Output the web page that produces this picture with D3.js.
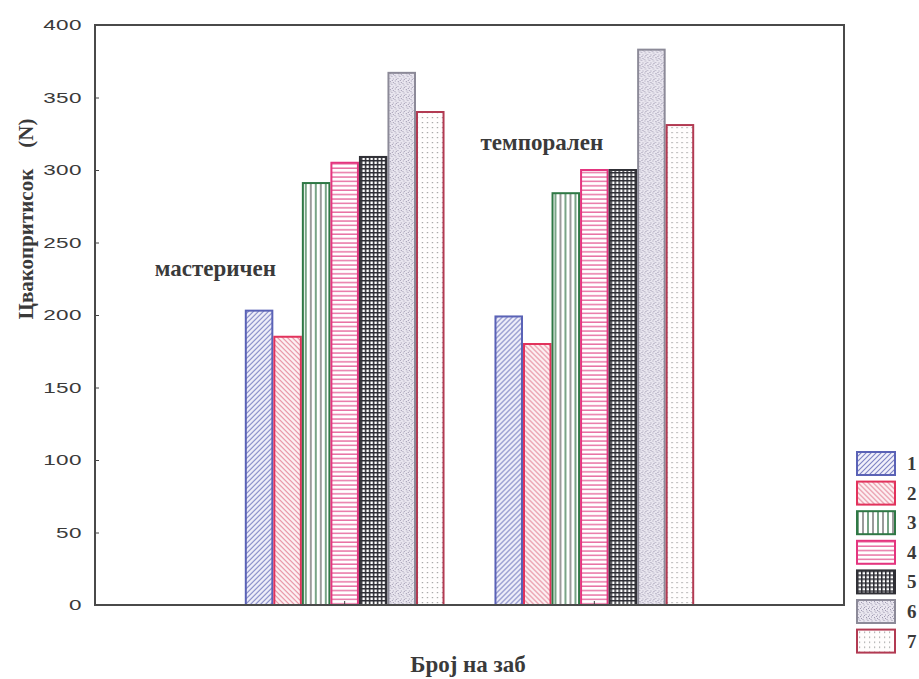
<!DOCTYPE html>
<html>
<head>
<meta charset="utf-8">
<script src="https://cdn.jsdelivr.net/npm/d3@7"></script>
<style>
  html, body { margin: 0; padding: 0; background: #fff; }
  svg { display: block; }
  .serif { font-family: "Liberation Serif", "DejaVu Serif", serif; font-weight: bold; fill: #3a3a3a; }
  .tick text { font-family: "Liberation Sans", Arial, sans-serif; font-size: 15px; fill: #3a3a3a; }
</style>
</head>
<body>
<svg id="chart" width="919" height="679"></svg>
<script>
// Groups (sites of measurement) and the tooth-number series
const groups = ["мастеричен", "темпорален"];
const series = ["1", "2", "3", "4", "5", "6", "7"];
// Bite force (N) per tooth number, one array per group
const valuesMasticatory = [203, 185, 291, 305, 309, 367, 340];
const valuesTemporal    = [199, 180, 284, 300, 300, 383, 331];
const yTicks = [0, 50, 100, 150, 200, 250, 300, 350, 400];

const groupValues = [valuesMasticatory, valuesTemporal];

const svg = d3.select("#chart");
const margin = { left: 95, right: 75, top: 25, bottom: 74 };
const W = 919, H = 679;
const x0 = margin.left, x1 = W - margin.right;
const yTop = margin.top, yBot = H - margin.bottom;

const x = d3.scaleBand().domain(groups).range([x0, x1]).paddingInner(0.2).paddingOuter(0.6);
const xs = d3.scaleBand().domain(series).range([0, x.bandwidth()]).padding(0);
const y = d3.scaleLinear().domain([0, 400]).range([yBot, yTop]);

// Fill patterns for each series
const defs = svg.append("defs");
function pat(id, w, h, draw) {
  const p = defs.append("pattern").attr("id", id).attr("patternUnits", "userSpaceOnUse")
    .attr("width", w).attr("height", h);
  draw(p);
}
pat("p1", 5, 5, p => {
  p.append("rect").attr("width", 5).attr("height", 5).attr("fill", "#f1f0fa");
  p.append("path").attr("d", "M-1,6 L6,-1 M-1,1 L1,-1 M4,6 L6,4").attr("stroke", "#7c82c4").attr("stroke-width", 1.1);
});
pat("p2", 5, 5, p => {
  p.append("rect").attr("width", 5).attr("height", 5).attr("fill", "#fdf2f4");
  p.append("path").attr("d", "M-1,-1 L6,6 M4,-1 L6,1 M-1,4 L1,6").attr("stroke", "#e58a9c").attr("stroke-width", 1.1);
});
pat("p3", 10, 10, p => {
  p.append("rect").attr("width", 10).attr("height", 10).attr("fill", "#fff");
  p.append("line").attr("x1", 1).attr("x2", 1).attr("y1", 0).attr("y2", 10).attr("stroke", "#3f7d52").attr("stroke-width", 1.4);
  p.append("line").attr("x1", 6).attr("x2", 6).attr("y1", 0).attr("y2", 10).attr("stroke", "#707070").attr("stroke-width", 1.4);
});
pat("p4", 10, 4.4, p => {
  p.append("rect").attr("width", 10).attr("height", 4.4).attr("fill", "#fff");
  p.append("line").attr("x1", 0).attr("x2", 10).attr("y1", 1).attr("y2", 1).attr("stroke", "#e3528f").attr("stroke-width", 1.2);
});
pat("p5", 4, 4, p => {
  p.append("rect").attr("width", 4).attr("height", 4).attr("fill", "#ffffff");
  p.append("path").attr("d", "M0,0.75 H4 M0.75,0 V4").attr("stroke", "#2e2e35").attr("stroke-width", 1.6);
});
pat("p6", 8, 8, p => {
  p.append("rect").attr("width", 8).attr("height", 8).attr("fill", "#e9e6ef");
  const dots = [[1,1],[4,2],[6,0.5],[2.5,4],[6.5,4.5],[0.5,6],[4,6.5],[7,7],[3,0],[5.5,3],[1.5,2.5]];
  dots.forEach(([cx, cy]) => p.append("rect").attr("x", cx).attr("y", cy).attr("width", 1).attr("height", 1).attr("fill", "#a09ab2"));
});
pat("p7", 5, 5, p => {
  p.append("rect").attr("width", 5).attr("height", 5).attr("fill", "#fffdfd");
  p.append("rect").attr("x", 2).attr("y", 2).attr("width", 1.2).attr("height", 1.2).attr("fill", "#9a9a9a");
});

const strokes = ["#5a62b6", "#e2325c", "#2f7845", "#e4357f", "#303036", "#8c8a98", "#b23a52"];

// Bars
const gGroups = svg.append("g").selectAll("g").data(groups).join("g")
  .attr("transform", d => `translate(${x(d)},0)`);
gGroups.selectAll("rect")
  .data((g, gi) => series.map((s, i) => ({ s, i, v: groupValues[gi][i] })))
  .join("rect")
  .attr("x", d => xs(d.s) + 1)
  .attr("y", d => y(d.v))
  .attr("width", xs.bandwidth() - 2)
  .attr("height", d => y(0) - y(d.v))
  .attr("fill", d => `url(#p${d.i + 1})`)
  .attr("stroke", d => strokes[d.i])
  .attr("stroke-width", 2);

// Y axis with inward ticks; labels drawn in a wide face
const yAxis = svg.append("g").attr("transform", `translate(${x0},0)`)
  .call(d3.axisLeft(y).tickValues(yTicks).tickSize(-4).tickPadding(13));
yAxis.select(".domain").remove();
yAxis.selectAll(".tick line").attr("stroke", "#444");
yAxis.selectAll(".tick text")
  .attr("x", null)
  .attr("transform", "translate(-13,0) scale(1.5,1)")
  .attr("letter-spacing", 0.3);

// Small inward ticks at group centres on the baseline
svg.append("g").selectAll("line").data(groups).join("line")
  .attr("x1", d => x(d) + x.bandwidth() / 2).attr("x2", d => x(d) + x.bandwidth() / 2)
  .attr("y1", yBot).attr("y2", yBot - 4).attr("stroke", "#444");

// Plot frame
svg.append("rect").attr("x", x0).attr("y", yTop).attr("width", x1 - x0).attr("height", yBot - yTop)
  .attr("fill", "none").attr("stroke", "#4a4a4a").attr("stroke-width", 2);

// Group annotations
const labelPos = [{ dx: -90, v: 227 }, { dx: -14, v: 314 }];
groups.forEach((g, i) => {
  svg.append("text").attr("class", "serif").attr("font-size", 23)
    .attr("x", x(g) + labelPos[i].dx).attr("y", y(labelPos[i].v))
    .text(g);
});

// Axis titles
svg.append("text").attr("class", "serif").attr("font-size", 23)
  .attr("x", 468).attr("y", 672).attr("text-anchor", "middle").text("Број на заб");
svg.append("text").attr("class", "serif").attr("font-size", 21)
  .attr("transform", "translate(33,219) rotate(-90)").attr("text-anchor", "middle")
  .style("white-space", "pre").text("Цвакопритисок    (N)");

// Legend
const leg = svg.append("g").selectAll("g").data(series).join("g")
  .attr("transform", (d, i) => `translate(857,${452 + i * 29.6})`);
leg.append("rect").attr("width", 38).attr("height", 23)
  .attr("fill", (d, i) => `url(#p${i + 1})`).attr("stroke", (d, i) => strokes[i]).attr("stroke-width", 2);
leg.append("text").attr("class", "serif").attr("font-size", 19)
  .attr("x", 50).attr("y", 18).text(d => d);
</script>
</body>
</html>
